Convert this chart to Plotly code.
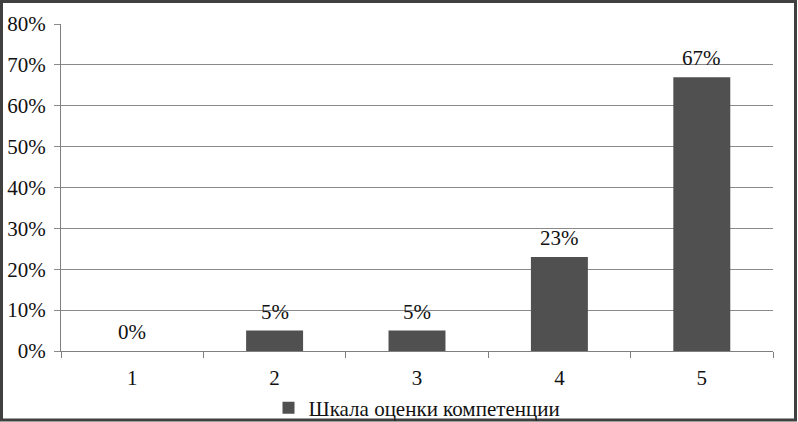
import plotly.graph_objects as go

categories = ["1", "2", "3", "4", "5"]
values = [0, 5, 5, 23, 67]
labels = ["0%", "5%", "5%", "23%", "67%"]
y_ticks = [0, 10, 20, 30, 40, 50, 60, 70, 80]
y_ticktext = [f"{v}%" for v in y_ticks]
series_name = "Шкала оценки компетенции"

W, H = 798, 422
ml, mr, mt, mb = 61, 25, 24, 71
pw, ph = W - ml - mr, H - mt - mb
FONT = "Liberation Serif"
FS = 21
TXT = "#111111"

def px_x(p):
    return (p - ml) / pw

def px_y(p):
    return (H - mb - p) / ph

fig = go.Figure()
fig.add_trace(go.Bar(
    x=categories, y=values, name=series_name,
    marker=dict(color="#505050", line=dict(width=0)),
    width=0.4, showlegend=True,
))

annotations = [
    dict(x=i, y=v, text=t, xref="x", yref="y", showarrow=False,
         yanchor="middle", yshift=19, font=dict(family=FONT, size=FS, color=TXT))
    for i, (v, t) in enumerate(zip(values, labels))
]

fig.update_layout(
    width=W, height=H,
    margin=dict(l=ml, r=mr, t=mt, b=mb, autoexpand=False),
    paper_bgcolor="white", plot_bgcolor="white",
    font=dict(family=FONT, size=FS, color=TXT),
    showlegend=True,
    legend=dict(orientation="h", x=0.5, xanchor="center", y=px_y(408), yanchor="middle",
                font=dict(family=FONT, size=FS, color=TXT),
                itemwidth=30, bgcolor="rgba(0,0,0,0)"),
    xaxis=dict(
        type="category", showgrid=False, showline=True, linecolor="#7f7f7f", linewidth=1,
        ticks="outside", tickson="boundaries", ticklen=6, tickcolor="#7f7f7f",
        tickfont=dict(family=FONT, size=FS, color=TXT), ticklabelstandoff=8,
        range=[-0.5, 4.5], automargin=False,
    ),
    yaxis=dict(
        range=[0, 80], tickvals=y_ticks, ticktext=y_ticktext,
        showgrid=True, gridcolor="#8a8a8a", gridwidth=1,
        showline=True, linecolor="#7f7f7f", linewidth=1,
        ticks="outside", ticklen=6, tickcolor="#8a8a8a",
        tickfont=dict(family=FONT, size=FS, color=TXT), ticklabelstandoff=4,
        zeroline=False, automargin=False,
    ),
    annotations=annotations,
    shapes=[dict(
        type="rect", xref="paper", yref="paper",
        x0=px_x(1.5), x1=px_x(W - 2.5), y0=px_y(H - 2), y1=px_y(1.5),
        line=dict(color="#404040", width=3), fillcolor="rgba(0,0,0,0)", layer="above",
    )],
)

fig.write_html("out.html", config={"displayModeBar": False},
               post_script="document.body.style.margin='0';document.body.style.overflow='hidden';")
